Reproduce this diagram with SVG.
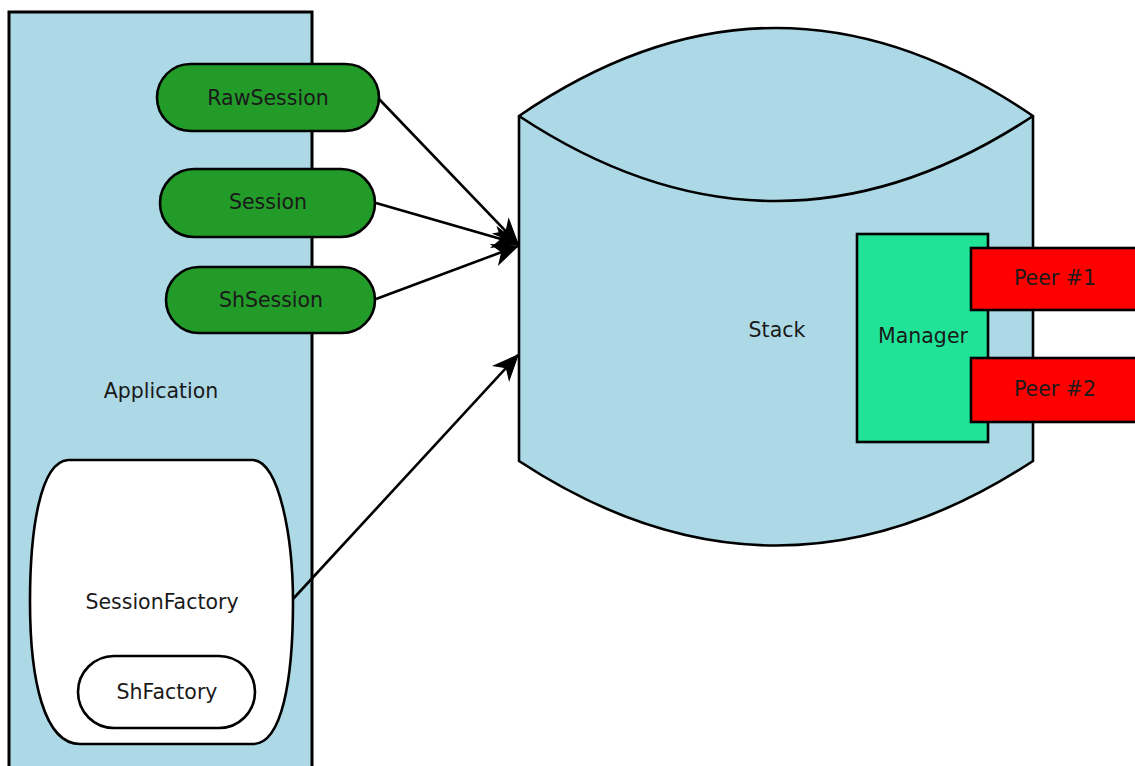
<svg xmlns="http://www.w3.org/2000/svg" width="1135" height="766" viewBox="0 0 1135 766">
<style>
text{font-family:"DejaVu Sans","Verdana",sans-serif;font-size:20.5px;fill:#1a1a1a;text-anchor:middle}
.b{stroke:#000;stroke-width:2.6}
.conn{fill:none;stroke:#000;stroke-width:2.6}
</style>
<defs>
<marker id="ah" markerUnits="userSpaceOnUse" markerWidth="30" markerHeight="30" refX="0" refY="0" viewBox="-24 -12 26 24" orient="auto">
<path d="M0,0 L-21,-9 L-15,0 L-21,9 Z" fill="#000" stroke="#000" stroke-width="1"/>
</marker>
</defs>
<rect width="1135" height="766" fill="#fff"/>
<g id="application">
<rect x="9" y="12" width="303" height="770" fill="#add8e6" stroke="#000" stroke-width="3"/>
<text x="161" y="398">Application</text>
</g>
<g id="rawsession">
<rect x="157" y="64" width="222" height="67" rx="33.5" fill="#229b29" class="b"/>
<text x="268" y="105">RawSession</text>
</g>
<g id="session">
<rect x="160" y="169" width="215" height="68" rx="34" fill="#229b29" class="b"/>
<text x="268" y="209">Session</text>
</g>
<g id="shsession">
<rect x="166" y="267" width="209" height="66" rx="33" fill="#229b29" class="b"/>
<text x="271" y="307">ShSession</text>
</g>
<g id="sessionfactory">
<path d="M68,460 H253 C280,462 293,540 293,602 C293,680 282,744 253,744 H80 C44,744 30,680 30,602 C30,530 40,462 68,460 Z" fill="#fff" class="b"/>
<text x="162" y="609">SessionFactory</text>
</g>
<g id="shfactory">
<rect x="78" y="656" width="177" height="72" rx="36" fill="#fff" class="b"/>
<text x="167" y="699">ShFactory</text>
</g>
<g id="stack">
<path d="M519,116 Q776,-60 1033,116 V461 Q776,630 519,461 Z" fill="#add8e6" class="b"/>
<path d="M519,116 Q776,286 1033,116" fill="none" class="b"/>
<text x="777" y="337">Stack</text>
</g>
<g id="manager">
<rect x="857" y="234" width="131" height="208" fill="#20e398" class="b"/>
<text x="923" y="343">Manager</text>
</g>
<g id="peer1">
<rect x="971" y="248" width="170" height="62" fill="#ff0000" class="b"/>
<text x="1055" y="285">Peer #1</text>
</g>
<g id="peer2">
<rect x="971" y="358" width="170" height="64" fill="#ff0000" class="b"/>
<text x="1055" y="396">Peer #2</text>
</g>
<g id="connectors">
<line x1="379" y1="99" x2="518" y2="244" class="conn" marker-end="url(#ah)"/>
<line x1="376" y1="203" x2="518" y2="244" class="conn" marker-end="url(#ah)"/>
<line x1="376" y1="299" x2="518" y2="246" class="conn" marker-end="url(#ah)"/>
<line x1="293" y1="599" x2="518" y2="355" class="conn" marker-end="url(#ah)"/>
</g>
</svg>
